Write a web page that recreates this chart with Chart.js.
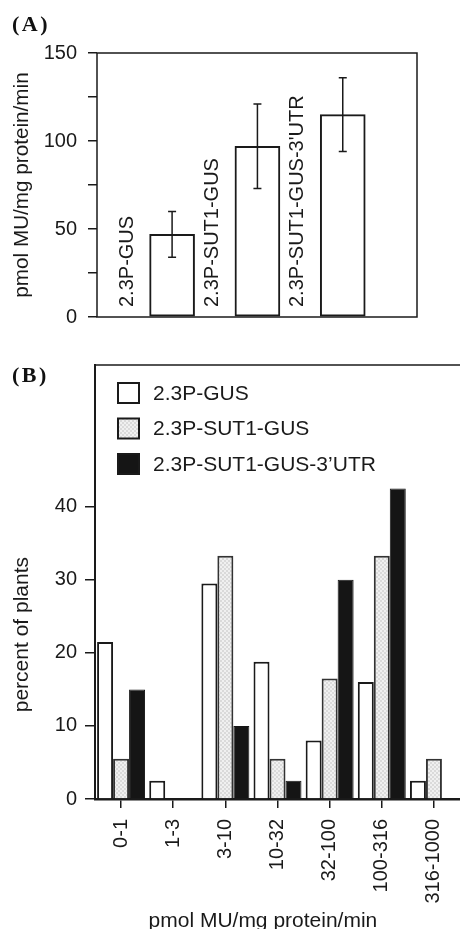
<!DOCTYPE html>
<html>
<head>
<meta charset="utf-8">
<script src="https://cdn.jsdelivr.net/npm/chart.js@4.4.1/dist/chart.umd.min.js"></script>
<style>
    html, body { margin: 0; padding: 0; background: #fff; width: 460px; height: 929px; overflow: hidden; }
    .tag { position: absolute; left: 12px; font: bold 22px/22px "Liberation Serif", serif; letter-spacing: 2.5px; color: #111; z-index: 2; }
    #wrapA { position: absolute; left: 0; top: 0; width: 460px; height: 340px; }
    #wrapB { position: absolute; left: 0; top: 340px; width: 460px; height: 600px; }
</style>
</head>
<body>
<div class="tag" style="top:13px">(A)</div>
<div class="tag" style="top:364px">(B)</div>
<div id="wrapA"><canvas id="chartA" width="460" height="340"></canvas></div>
<div id="wrapB"><canvas id="chartB" width="460" height="600"></canvas></div>
<script>
// panel A: mean activity per construct
const constructNames = ['2.3P-GUS', '2.3P-SUT1-GUS', "2.3P-SUT1-GUS-3'UTR"]
const activityMeans = [47, 97, 115]
const activityErrors = [13, 24, 21]

// panel B: distribution of plants over activity classes
const activityClasses = ['0-1', '1-3', '3-10', '10-32', '32-100', '100-316', '316-1000']
const seriesNames = ['2.3P-GUS', '2.3P-SUT1-GUS', '2.3P-SUT1-GUS-3\u2019UTR']
const pctGus = [21.5, 2.5, 29.5, 18.8, 8, 16, 2.5]
const pctSut1Gus = [5.5, 0, 33.3, 5.5, 16.5, 33.3, 5.5]
const pctSut1Utr = [15, 0, 10, 2.5, 30, 42.5, 0]

;(function () {
    Chart.defaults.font.family = '"Liberation Sans", Arial, sans-serif'
    Chart.defaults.color = '#222'

    const INK = '#1a1a1a'

    // light dotted fill like the printed figure
    function makeStipple() {
        const c = document.createElement('canvas')
        c.width = 4
        c.height = 4
        const g = c.getContext('2d')
        g.fillStyle = '#f0f0f0'
        g.fillRect(0, 0, 4, 4)
        g.fillStyle = '#dadada'
        g.fillRect(0, 0, 2, 2)
        g.fillRect(2, 2, 2, 2)
        return g.createPattern(c, 'repeat')
    }

    /* ==============================
               PANEL A
       ============================== */
    const frameBox = {
        id: 'frameBox',
        afterDraw(chart) {
            const { ctx, chartArea: a } = chart
            ctx.save()
            ctx.strokeStyle = INK
            ctx.lineWidth = 1.5
            ctx.strokeRect(a.left, a.top, a.right - a.left, a.bottom - a.top)
            ctx.restore()
        }
    }

    const errorBars = {
        id: 'errorBars',
        afterDatasetsDraw(chart) {
            const { ctx } = chart
            const y = chart.scales.y
            const meta = chart.getDatasetMeta(0)
            ctx.save()
            ctx.strokeStyle = INK
            ctx.lineWidth = 1.5
            meta.data.forEach((bar, i) => {
                const hi = y.getPixelForValue(activityMeans[i] + activityErrors[i])
                const lo = y.getPixelForValue(activityMeans[i] - activityErrors[i])
                ctx.beginPath()
                ctx.moveTo(bar.x, hi)
                ctx.lineTo(bar.x, lo)
                ctx.moveTo(bar.x - 4, hi)
                ctx.lineTo(bar.x + 4, hi)
                ctx.moveTo(bar.x - 4, lo)
                ctx.lineTo(bar.x + 4, lo)
                ctx.stroke()
            })
            ctx.restore()
        }
    }

    // construct names stand upright left of each bar
    const barNames = {
        id: 'barNames',
        afterDatasetsDraw(chart) {
            const { ctx, chartArea } = chart
            const meta = chart.getDatasetMeta(0)
            ctx.save()
            ctx.fillStyle = INK
            ctx.font = '20px "Liberation Sans", Arial, sans-serif'
            ctx.textAlign = 'left'
            ctx.textBaseline = 'middle'
            meta.data.forEach((bar, i) => {
                ctx.save()
                ctx.translate(bar.x - bar.width, chartArea.bottom - 10)
                ctx.rotate(-Math.PI / 2)
                ctx.fillText(constructNames[i], 0, 0)
                ctx.restore()
            })
            ctx.restore()
        }
    }

    new Chart(document.getElementById('chartA'), {
        type: 'bar',
        data: {
            datasets: [
                {
                    data: activityMeans.map((v, i) => ({ x: i + 1, y: v })),
                    backgroundColor: '#fff',
                    borderColor: INK,
                    borderWidth: 2,
                    borderSkipped: false,
                    barThickness: 45
                }
            ]
        },
        options: {
            responsive: false,
            animation: false,
            layout: { padding: { top: 53, right: 43, bottom: 15, left: 0 } },
            plugins: { legend: { display: false }, tooltip: { enabled: false } },
            scales: {
                x: { type: 'linear', min: 0.12, max: 3.87, offset: false, display: false },
                y: {
                    min: 0,
                    max: 150,
                    afterFit: (s) => { s.width = 97 },
                    ticks: {
                        stepSize: 25,
                        padding: 11,
                        color: INK,
                        font: { size: 20 },
                        callback: (v) => (v % 50 === 0 ? v : '')
                    },
                    grid: { drawOnChartArea: false, tickLength: 9, color: INK, lineWidth: 1.5 },
                    border: { display: false },
                    title: {
                        display: true,
                        text: 'pmol MU/mg protein/min',
                        color: INK,
                        font: { size: 20.7 },
                        padding: { top: 10, bottom: 0 }
                    }
                }
            }
        },
        plugins: [frameBox, errorBars, barNames]
    })

    /* ==============================
               PANEL B
       ============================== */
    const topLine = {
        id: 'topLine',
        afterDraw(chart) {
            const { ctx, chartArea: a } = chart
            ctx.save()
            ctx.strokeStyle = INK
            ctx.lineWidth = 1.5
            ctx.beginPath()
            ctx.moveTo(a.left, a.top)
            ctx.lineTo(a.right, a.top)
            ctx.stroke()
            ctx.restore()
        }
    }

    const boxLegend = {
        id: 'boxLegend',
        afterDraw(chart) {
            const { ctx, chartArea: a } = chart
            ctx.save()
            ctx.font = '21px "Liberation Sans", Arial, sans-serif'
            ctx.textAlign = 'left'
            ctx.textBaseline = 'middle'
            chart.data.datasets.forEach((ds, i) => {
                const x = a.left + 23
                const y = a.top + 18 + i * 35.5
                ctx.fillStyle = ds.backgroundColor
                ctx.fillRect(x, y, 21, 20)
                ctx.strokeStyle = INK
                ctx.lineWidth = 2
                ctx.strokeRect(x, y, 21, 20)
                ctx.fillStyle = INK
                ctx.fillText(ds.label, x + 35, y + 11)
            })
            ctx.restore()
        }
    }

    const axisTitles = {
        id: 'axisTitles',
        afterDraw(chart) {
            const { ctx, chartArea: a } = chart
            const x = chart.scales.x
            const y = chart.scales.y
            ctx.save()
            ctx.fillStyle = INK
            ctx.font = '21px "Liberation Sans", Arial, sans-serif'
            ctx.textAlign = 'center'
            ctx.textBaseline = 'middle'
            ctx.save()
            ctx.translate(22, y.getPixelForValue(22.5))
            ctx.rotate(-Math.PI / 2)
            ctx.fillText('percent of plants', 0, 0)
            ctx.restore()
            ctx.textBaseline = 'alphabetic'
            ctx.fillText('pmol MU/mg protein/min', a.left + (a.right - a.left) * 0.46, x.bottom - 13)
            ctx.restore()
        }
    }

    new Chart(document.getElementById('chartB'), {
        type: 'bar',
        data: {
            labels: activityClasses,
            datasets: [
                { label: seriesNames[0], data: pctGus, backgroundColor: '#fff', borderColor: INK, borderWidth: 2 },
                { label: seriesNames[1], data: pctSut1Gus, backgroundColor: makeStipple(), borderColor: '#333', borderWidth: 2 },
                { label: seriesNames[2], data: pctSut1Utr, backgroundColor: '#151515', borderColor: '#151515', borderWidth: 1 }
            ]
        },
        options: {
            responsive: false,
            animation: false,
            datasets: { bar: { categoryPercentage: 0.92, barPercentage: 1 } },
            layout: { padding: { top: 25, right: 0, bottom: 0, left: 0 } },
            plugins: { legend: { display: false }, tooltip: { enabled: false } },
            scales: {
                x: {
                    // the axis runs off the right edge, so no room kept for the last label
                    afterFit: (s) => {
                        s.height = 141
                        s.paddingRight = 0
                        s.paddingLeft = 0
                    },
                    ticks: { autoSkip: false, minRotation: 90, maxRotation: 90, padding: 11, color: INK, font: { size: 20 } },
                    grid: { offset: false, drawOnChartArea: false, tickLength: 9, color: INK, lineWidth: 1.5 },
                    border: { color: INK, width: 2.5 }
                },
                y: {
                    min: 0,
                    max: 59.4,
                    afterFit: (s) => { s.width = 95 },
                    afterBuildTicks: (s) => { s.ticks = s.ticks.filter((t) => t.value <= 40) },
                    ticks: { stepSize: 10, padding: 8, color: INK, font: { size: 20 } },
                    grid: { drawOnChartArea: false, tickLength: 10, color: INK, lineWidth: 1.5 },
                    border: { color: INK, width: 2 }
                }
            }
        },
        plugins: [topLine, boxLegend, axisTitles]
    })
})()
</script>
</body>
</html>
